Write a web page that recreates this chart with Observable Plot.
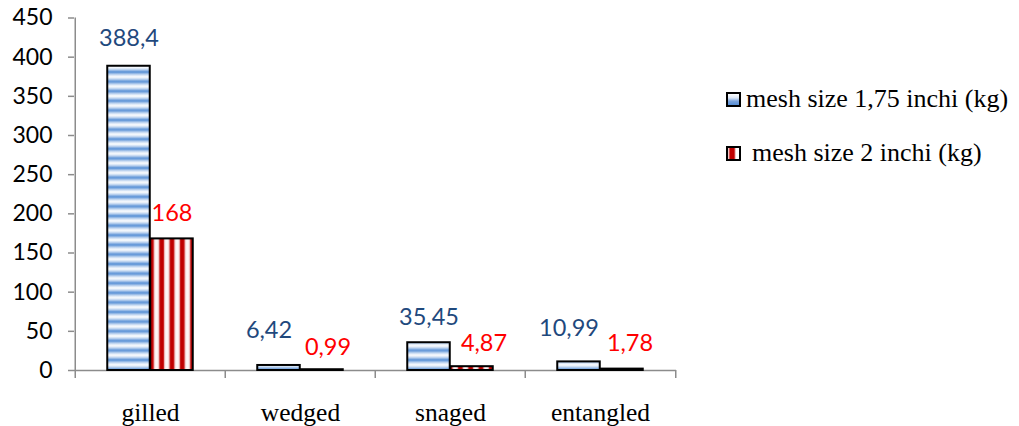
<!DOCTYPE html>
<html>
<head>
<meta charset="utf-8">
<script src="https://cdn.jsdelivr.net/npm/d3@7"></script>
<script src="https://cdn.jsdelivr.net/npm/@observablehq/plot@0.6"></script>
<style>
  html, body { margin: 0; padding: 0; background: #fff; }
  #wrap { position: relative; width: 1019px; height: 426px; overflow: hidden; background: #fff; }
  #wrap > svg { position: absolute; left: 0; top: 0; }
  .legend-row { position: absolute; font-family: "Liberation Serif", "Times New Roman", serif; font-size: 26px; line-height: 26px; color: #000; white-space: nowrap; }
  .swatch { position: absolute; width: 11px; height: 11px; border: 2px solid #000; }
</style>
</head>
<body>
<div id="wrap"></div>
<script>
// Catch weight by position in the net, for two mesh sizes
const categories = ["gilled", "wedged", "snaged", "entangled"];
const seriesNames = ["mesh size 1,75 inchi (kg)", "mesh size 2 inchi (kg)"];
const mesh175 = [388.4, 6.42, 35.45, 10.99];
const mesh2 = [168, 0.99, 4.87, 1.78];
const yTicks = [0, 50, 100, 150, 200, 250, 300, 350, 400, 450];

const rows = [
  ...categories.map((c, i) => ({category: c, series: 0, value: mesh175[i]})),
  ...categories.map((c, i) => ({category: c, series: 1, value: mesh2[i]}))
];

// Decimal comma, as in the source document
const fmt = v => String(v).replace(".", ",");

const W = 700, H = 426;
const mL = 74, mR = 24, mT = 17.5, mB = 56;
const band = (W - mL - mR) / categories.length;   // one category slot
const barW = 43;
const gap = (band - 2 * barW) / 2;
const plotH = H - mT - mB;
const axisGray = "#8c8c8c";
const labelColors = ["#1F497D", "#FF0000"];
const fills = ["url(#blueStripes)", "url(#redStripes)"];

// Small pixel nudges so neighbouring labels on short bars don't collide
const labelNudge = {
  "gilled|0": [0, -20], "gilled|1": [0, -18],
  "wedged|0": [-10, -27], "wedged|1": [6, -15],
  "snaged|0": [0, -18], "snaged|1": [12, -16],
  "entangled|0": [-10, -26], "entangled|1": [8, -18]
};

const barMarks = [0, 1].map(s => Plot.barY(rows.filter(r => r.series === s), {
  x: "category",
  y: "value",
  fill: fills[s],
  stroke: "#000",
  strokeWidth: 2,
  insetLeft: s === 0 ? gap : gap + barW,
  insetRight: s === 0 ? gap + barW : gap
}));

const labelMarks = rows.map(r => {
  const [nx, ny] = labelNudge[`${r.category}|${r.series}`];
  return Plot.text([r], {
    x: "category",
    y: "value",
    text: d => fmt(d.value),
    fill: labelColors[r.series],
    fontFamily: "Lato",
    fontSize: 23.5,
    lineAnchor: "bottom",
    dx: (r.series === 0 ? -1 : 1) * (barW / 2) + nx,
    dy: ny
  });
});

const chart = Plot.plot({
  width: W,
  height: H,
  marginLeft: mL,
  marginRight: mR,
  marginTop: mT,
  marginBottom: mB,
  style: {fontFamily: "Lato", fontSize: "23px", color: "#000", background: "transparent", overflow: "visible"},
  x: {domain: categories, padding: 0, axis: null},
  y: {domain: [0, 450], axis: null},
  marks: [
    // value axis
    Plot.axisY(yTicks, {label: null, tickSize: 6, tickPadding: 16, stroke: axisGray, strokeWidth: 1.5, fill: "#000", fontFamily: "Lato", fontSize: 23}),
    Plot.ruleX(categories.slice(0, 1), {x: d => d, dx: -band / 2, y1: 0, y2: 450, stroke: axisGray, strokeWidth: 1.5}),
    // category axis: baseline plus boundary ticks between groups
    Plot.ruleY([0], {stroke: axisGray, strokeWidth: 1.5}),
    Plot.ruleX(categories, {x: d => d, dx: -band / 2, insetTop: plotH, insetBottom: -8, stroke: axisGray, strokeWidth: 1.5}),
    Plot.ruleX(categories.slice(-1), {x: d => d, dx: band / 2, insetTop: plotH, insetBottom: -8, stroke: axisGray, strokeWidth: 1.5}),
    Plot.axisX({label: null, tickSize: 0, tickPadding: 32, fontFamily: "Liberation Serif", fontSize: 25.5, fill: "#000"}),
    ...barMarks,
    ...labelMarks
  ]
});

// Stripe fills for the two series
d3.select(chart).insert("defs", ":first-child").html(`
  <linearGradient id="blueGrad" x1="0" y1="0" x2="0" y2="1">
    <stop offset="0" stop-color="#ffffff"/>
    <stop offset="0.22" stop-color="#c6d9f1"/>
    <stop offset="0.5" stop-color="#558ed5"/>
    <stop offset="0.78" stop-color="#c6d9f1"/>
    <stop offset="1" stop-color="#ffffff"/>
  </linearGradient>
  <pattern id="blueStripes" patternUnits="userSpaceOnUse" width="20" height="9.6">
    <rect width="20" height="9.6" fill="url(#blueGrad)"/>
  </pattern>
  <linearGradient id="redGrad" x1="0" y1="0" x2="1" y2="0">
    <stop offset="0" stop-color="#ffffff"/>
    <stop offset="0.2" stop-color="#f8e0e0"/>
    <stop offset="0.34" stop-color="#c00000"/>
    <stop offset="0.66" stop-color="#c00000"/>
    <stop offset="0.8" stop-color="#f8e0e0"/>
    <stop offset="1" stop-color="#ffffff"/>
  </linearGradient>
  <pattern id="redStripes" patternUnits="userSpaceOnUse" width="10.3" height="20" x="2">
    <rect width="10.3" height="20" fill="url(#redGrad)"/>
  </pattern>
`);

const wrap = document.getElementById("wrap");
wrap.appendChild(chart);

// Legend to the right of the plot area
const swatchBg = [
  "linear-gradient(to bottom, #ffffff 0%, #dce7f6 35%, #7aa3dc 65%, #558ed5 100%)",
  "linear-gradient(to right, #ffffff 0%, #c00000 20%, #c00000 55%, #ffffff 72%, #ffffff 100%)"
];
const legendTops = [86, 140];
const textLefts = [746, 752];
seriesNames.forEach((name, i) => {
  const sw = document.createElement("div");
  sw.className = "swatch";
  sw.style.left = "726px";
  sw.style.top = (legendTops[i] + 6) + "px";
  sw.style.background = swatchBg[i];
  wrap.appendChild(sw);
  const t = document.createElement("div");
  t.className = "legend-row";
  t.style.left = textLefts[i] + "px";
  t.style.top = legendTops[i] + "px";
  t.textContent = name;
  wrap.appendChild(t);
});
</script>
</body>
</html>
